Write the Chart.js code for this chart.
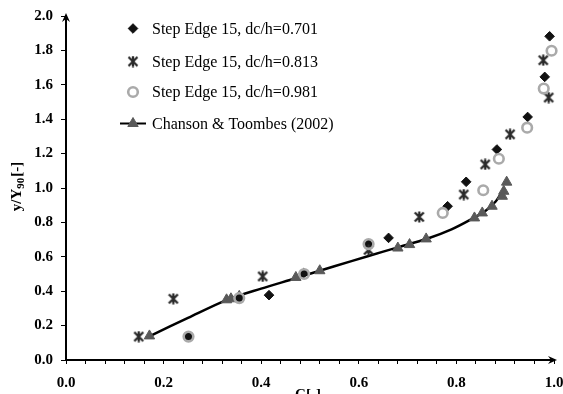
<!DOCTYPE html>
<html>
<head>
<meta charset="utf-8">
<script src="https://cdn.jsdelivr.net/npm/chart.js@4/dist/chart.umd.min.js"></script>
<style>
  html, body { margin: 0; padding: 0; background: #fff; }
</style>
</head>
<body>
<canvas id="chart" width="563" height="394"></canvas>
<script>
// data: C[-] (x) and y/Y90[-] (y)
const diamondC = [0.251, 0.355, 0.416, 0.487, 0.620, 0.661, 0.782, 0.820, 0.883, 0.946, 0.981, 0.991];
const diamondY = [0.136, 0.360, 0.377, 0.505, 0.674, 0.710, 0.894, 1.036, 1.224, 1.413, 1.646, 1.882];

const starC = [0.149, 0.220, 0.403, 0.620, 0.724, 0.815, 0.859, 0.910, 0.978, 0.989];
const starY = [0.136, 0.356, 0.486, 0.640, 0.832, 0.962, 1.137, 1.312, 1.743, 1.526];

const circleC = [0.251, 0.355, 0.488, 0.620, 0.772, 0.855, 0.887, 0.945, 0.979, 0.995];
const circleY = [0.136, 0.360, 0.500, 0.674, 0.855, 0.987, 1.170, 1.351, 1.578, 1.798];

const triC = [0.171, 0.329, 0.338, 0.355, 0.471, 0.520, 0.680, 0.704, 0.738, 0.837, 0.853, 0.873, 0.894, 0.897, 0.903];
const triY = [0.140, 0.350, 0.356, 0.370, 0.480, 0.519, 0.651, 0.671, 0.704, 0.826, 0.855, 0.894, 0.952, 0.981, 1.034];

const lineC = [0.176, 0.250, 0.330, 0.400, 0.470, 0.550, 0.620, 0.680, 0.740, 0.790, 0.830, 0.860, 0.880, 0.893];
const lineY = [0.145, 0.245, 0.350, 0.415, 0.475, 0.545, 0.605, 0.655, 0.705, 0.760, 0.818, 0.868, 0.920, 0.975];

const seriesNames = ['Step Edge 15, dc/h=0.701', 'Step Edge 15, dc/h=0.813', 'Step Edge 15, dc/h=0.981', 'Chanson & Toombes (2002)'];
const xMajorLabels = ['0.0', '0.2', '0.4', '0.6', '0.8', '1.0'];

function pts(xs, ys) {
    return xs.map((x, i) => ({ x: x, y: ys[i] }));
}

// excel-like star marker: X with a vertical bar
function makeStar() {
    const c = document.createElement('canvas');
    c.width = 12; c.height = 12;
    const g = c.getContext('2d');
    g.strokeStyle = '#2a2a2a';
    g.lineWidth = 2.3;
    g.beginPath();
    g.moveTo(1.5, 1.5); g.lineTo(10.5, 10.5);
    g.moveTo(10.5, 1.5); g.lineTo(1.5, 10.5);
    g.moveTo(6, 0.5); g.lineTo(6, 11.5);
    g.stroke();
    return c;
}
const starImg = makeStar();

const diamondStyle = { pointStyle: 'rectRot', radius: 4.8, backgroundColor: '#111', borderColor: '#111', borderWidth: 1 };
const circleStyle = { pointStyle: 'circle', radius: 4.8, backgroundColor: 'rgba(0,0,0,0)', borderColor: '#aaa', borderWidth: 2.6 };
const triStyle = { pointStyle: 'triangle', radius: 6, backgroundColor: '#595959', borderColor: '#595959', borderWidth: 1 };

function legendMark(ctx, st, x, y) {
    ctx.save();
    ctx.fillStyle = st.backgroundColor;
    ctx.strokeStyle = st.borderColor;
    ctx.lineWidth = st.borderWidth;
    Chart.helpers.drawPoint(ctx, st, x, y);
    ctx.restore();
}

const extras = {
    id: 'extras',
    afterDraw(chart) {
        const ctx = chart.ctx;
        const a = chart.chartArea;
        ctx.save();
        ctx.fillStyle = '#000';
        // arrow heads
        ctx.beginPath();
        ctx.moveTo(a.right + 3, a.bottom);
        ctx.lineTo(a.right - 6, a.bottom - 4);
        ctx.lineTo(a.right - 3, a.bottom);
        ctx.lineTo(a.right - 6, a.bottom + 4);
        ctx.closePath();
        ctx.fill();
        ctx.beginPath();
        ctx.moveTo(a.left, a.top - 3);
        ctx.lineTo(a.left - 4, a.top + 6);
        ctx.lineTo(a.left, a.top + 3);
        ctx.lineTo(a.left + 4, a.top + 6);
        ctx.closePath();
        ctx.fill();

        // axis titles
        ctx.font = 'bold 15px "Liberation Serif"';
        ctx.textAlign = 'center';
        ctx.textBaseline = 'alphabetic';
        ctx.fillText('C[-]', 308, 399);

        ctx.translate(17, 187);
        ctx.rotate(-Math.PI / 2);
        const big = 'bold 15px "Liberation Serif"', small = 'bold 11px "Liberation Serif"';
        ctx.font = big; const w1 = ctx.measureText('y/Y').width; const w3 = ctx.measureText('[-]').width;
        ctx.font = small; const w2 = ctx.measureText('90').width;
        let x0 = -(w1 + w2 + w3) / 2;
        ctx.textAlign = 'left';
        ctx.textBaseline = 'middle';
        ctx.font = big; ctx.fillText('y/Y', x0, 0);
        ctx.font = small; ctx.fillText('90', x0 + w1, 4);
        ctx.font = big; ctx.fillText('[-]', x0 + w1 + w2 + 1, 0);
        ctx.restore();

        // legend
        ctx.save();
        const rows = [28.5, 61.5, 92, 123.5];
        const mx = 133, tx = 152;
        legendMark(ctx, diamondStyle, mx, rows[0]);
        ctx.drawImage(starImg, mx - 6, rows[1] - 6);
        legendMark(ctx, circleStyle, mx, rows[2]);
        ctx.strokeStyle = '#000';
        ctx.lineWidth = 2;
        ctx.beginPath();
        ctx.moveTo(120, rows[3]); ctx.lineTo(146, rows[3]);
        ctx.stroke();
        legendMark(ctx, triStyle, mx, rows[3]);
        ctx.font = '16px "Liberation Serif"';
        ctx.fillStyle = '#000';
        ctx.textAlign = 'left';
        ctx.textBaseline = 'middle';
        seriesNames.forEach((n, i) => ctx.fillText(n, tx, rows[i] + 1));
        ctx.restore();
    }
};

Chart.defaults.font.family = '"Liberation Serif"';

new Chart(document.getElementById('chart'), {
    type: 'scatter',
    data: {
        datasets: [
            Object.assign({ label: seriesNames[2], data: pts(circleC, circleY), order: 0, clip: false }, circleStyle),
            { label: seriesNames[1], data: pts(starC, starY), order: 1, clip: false, pointStyle: starImg, radius: 6 },
            Object.assign({ label: seriesNames[0], data: pts(diamondC, diamondY), order: 2, clip: false }, diamondStyle),
            Object.assign({ label: seriesNames[3], data: pts(triC, triY), order: 3, clip: false }, triStyle),
            {
                label: 'curve',
                data: pts(lineC, lineY),
                showLine: true,
                pointRadius: 0,
                borderColor: '#000',
                borderWidth: 2.5,
                tension: 0.3,
                order: 4
            }
        ]
    },
    options: {
        responsive: false,
        animation: false,
        events: [],
        layout: { padding: { top: 16, right: 9, left: 0, bottom: 0 } },
        plugins: {
            legend: { display: false },
            tooltip: { enabled: false }
        },
        scales: {
            x: {
                type: 'linear',
                min: 0,
                max: 1,
                afterFit(s) { s.height = 34; s.paddingLeft = 0; s.paddingRight = 0; },
                border: { display: true, color: '#000', width: 2 },
                grid: { display: true, drawOnChartArea: false, drawTicks: true, tickLength: 4, color: '#000', lineWidth: 1 },
                ticks: {
                    stepSize: 0.04,
                    autoSkip: false,
                    maxRotation: 0,
                    padding: 10,
                    color: '#000',
                    font: { size: 15, weight: 'bold' },
                    callback(v) {
                        const k = Math.round(v / 0.2);
                        return Math.abs(v - k * 0.2) < 1e-6 ? xMajorLabels[k] : '';
                    }
                }
            },
            y: {
                min: 0,
                max: 2,
                afterFit(s) { s.width = 66; s.paddingTop = 0; s.paddingBottom = 0; },
                border: { display: true, color: '#000', width: 2 },
                grid: { display: true, drawOnChartArea: false, drawTicks: true, tickLength: 5, color: '#000', lineWidth: 1 },
                ticks: {
                    stepSize: 0.2,
                    padding: 8,
                    color: '#000',
                    font: { size: 15, weight: 'bold' },
                    callback: (v) => v.toFixed(1)
                }
            }
        }
    },
    plugins: [extras]
});
</script>
</body>
</html>
